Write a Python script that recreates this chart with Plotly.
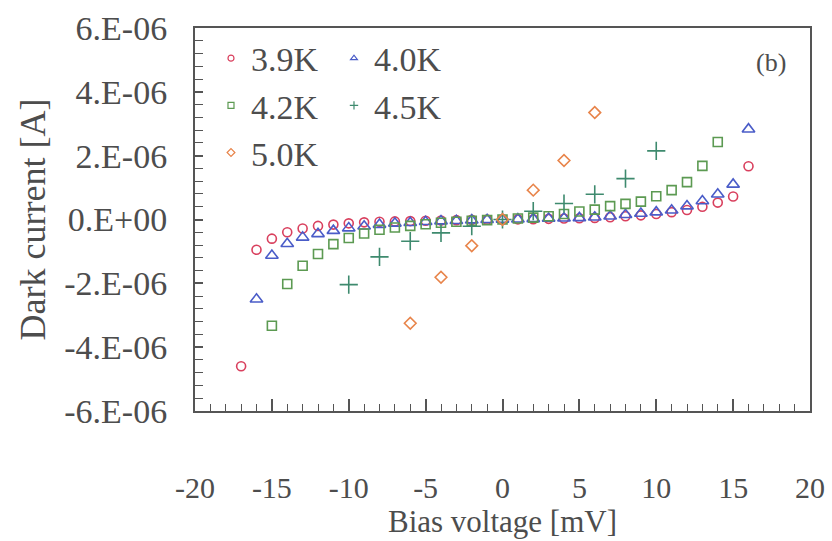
import plotly.graph_objects as go

# ---- data (current in A, bias in mV) ----
x_39 = list(range(-17, 17))
y_39 = [-4.6e-6, -0.95e-6, -0.6e-6, -0.4e-6, -0.28e-6, -0.2e-6, -0.16e-6, -0.12e-6,
        -0.09e-6, -0.07e-6, -0.06e-6, -0.05e-6, -0.04e-6, -0.03e-6, -0.02e-6, -0.01e-6,
        -0.005e-6, 0.0, 0.005e-6, 0.01e-6, 0.02e-6, 0.03e-6, 0.04e-6, 0.05e-6, 0.07e-6,
        0.1e-6, 0.13e-6, 0.17e-6, 0.23e-6, 0.3e-6, 0.4e-6, 0.53e-6, 0.72e-6, 1.67e-6]

x_40 = list(range(-16, 17))
y_40 = [-2.5e-6, -1.13e-6, -0.76e-6, -0.56e-6, -0.45e-6, -0.35e-6, -0.27e-6, -0.21e-6,
        -0.16e-6, -0.12e-6, -0.1e-6, -0.07e-6, -0.05e-6, -0.04e-6, -0.02e-6, -0.01e-6,
        0.0, 0.01e-6, 0.02e-6, 0.03e-6, 0.04e-6, 0.05e-6, 0.07e-6, 0.1e-6, 0.15e-6,
        0.19e-6, 0.23e-6, 0.29e-6, 0.42e-6, 0.58e-6, 0.79e-6, 1.1e-6, 2.83e-6]

x_42 = list(range(-15, 15))
y_42 = [-3.33e-6, -2.02e-6, -1.45e-6, -1.08e-6, -0.77e-6, -0.58e-6, -0.44e-6, -0.32e-6,
        -0.25e-6, -0.2e-6, -0.15e-6, -0.1e-6, -0.07e-6, -0.04e-6, -0.02e-6, 0.0,
        0.03e-6, 0.06e-6, 0.1e-6, 0.17e-6, 0.25e-6, 0.31e-6, 0.42e-6, 0.49e-6, 0.56e-6,
        0.73e-6, 0.92e-6, 1.17e-6, 1.68e-6, 2.43e-6]

x_45 = [-10, -8, -6, -4, -2, 0, 2, 4, 6, 8, 10]
y_45 = [-2.04e-6, -1.17e-6, -0.68e-6, -0.42e-6, -0.21e-6, 0.0, 0.26e-6, 0.5e-6,
        0.79e-6, 1.28e-6, 2.15e-6]

x_50 = [-6, -4, -2, 0, 2, 4, 6]
y_50 = [-3.25e-6, -1.81e-6, -0.82e-6, 0.0, 0.92e-6, 1.85e-6, 3.35e-6]

names = ["3.9K", "4.0K", "4.2K", "4.5K", "5.0K"]
colors = ["#d9405e", "#4a5cc8", "#5c9a52", "#3e8a6e", "#e8844a"]
symbols = ["circle-open", "triangle-up-open", "square-open", "cross-thin-open", "diamond-open"]
sizes = [9, 11, 9, 13, 9]
legend_of = ["legend", "legend2", "legend", "legend2", "legend"]

x_tickvals = [-20, -15, -10, -5, 0, 5, 10, 15, 20]
x_ticktext = ["-20", "-15", "-10", "-5", "0", "5", "10", "15", "20"]
y_tickvals = [-6e-6, -4e-6, -2e-6, 0, 2e-6, 4e-6, 6e-6]
y_ticktext = ["-6.E-06", "-4.E-06", "-2.E-06", "0.E+00", "2.E-06", "4.E-06", "6.E-06"]

FONT = "Liberation Serif"
TXT = "#4d4d4d"
AX = "#555555"

fig = go.Figure()
series = [(x_39, y_39), (x_40, y_40), (x_42, y_42), (x_45, y_45), (x_50, y_50)]
for (xs, ys), n, c, s, sz in zip(series, names, colors, symbols, sizes):
    fig.add_trace(go.Scatter(x=xs, y=ys, mode="markers", name=n, showlegend=False,
                             marker=dict(symbol=s, size=sz, color=c, line=dict(width=1.6, color=c))))
for n, c, s, lg in zip(names, colors, symbols, legend_of):
    fig.add_trace(go.Scatter(x=[None], y=[None], mode="markers", name=n, legend=lg,
                             marker=dict(symbol=s, size=6, color=c, line=dict(width=1.2, color=c))))

fig.update_layout(
    width=832, height=541,
    margin=dict(l=195, r=22, t=28, b=130),
    paper_bgcolor="white", plot_bgcolor="white",
    font=dict(family=FONT, size=34, color=TXT),
    legend=dict(x=0.026, y=0.996, xanchor="left", yanchor="top", bgcolor="rgba(0,0,0,0)",
                font=dict(family=FONT, size=34, color=TXT), tracegroupgap=0),
    legend2=dict(x=0.226, y=0.996, xanchor="left", yanchor="top", bgcolor="rgba(0,0,0,0)",
                 font=dict(family=FONT, size=34, color=TXT), tracegroupgap=0),
    annotations=[dict(text="(b)", x=0.9366, y=0.911, xref="paper", yref="paper",
                      xanchor="center", yanchor="middle",
                      showarrow=False, font=dict(family=FONT, size=26, color=TXT))],
)
fig.update_xaxes(
    range=[-20, 20], tickvals=x_tickvals, ticktext=x_ticktext, automargin=False,
    showline=True, linecolor=AX, linewidth=2, mirror=True,
    ticks="inside", ticklen=12, tickwidth=1.5, tickcolor=AX,
    minor=dict(dtick=1, ticks="inside", ticklen=7, tickwidth=1.2, tickcolor=AX),
    showgrid=False, zeroline=False, ticklabelstandoff=49,
    tickfont=dict(family=FONT, size=30, color=TXT),
    title=dict(text="Bias voltage [mV]", font=dict(family=FONT, size=31, color=TXT), standoff=0),
)
fig.update_yaxes(
    range=[-6e-6, 6e-6], tickvals=y_tickvals, ticktext=y_ticktext, automargin=False,
    showline=True, linecolor=AX, linewidth=2, mirror=True,
    ticks="inside", ticklen=8, tickwidth=1.5, tickcolor=AX,
    minor=dict(dtick=0.4e-6, tick0=0, ticks="inside", ticklen=8, tickwidth=1.2, tickcolor=AX),
    showgrid=False, zeroline=False, ticklabelstandoff=19,
    title=dict(text="Dark current [A]", font=dict(family=FONT, size=36, color=TXT), standoff=8),
)

fig.write_html("out.html")
